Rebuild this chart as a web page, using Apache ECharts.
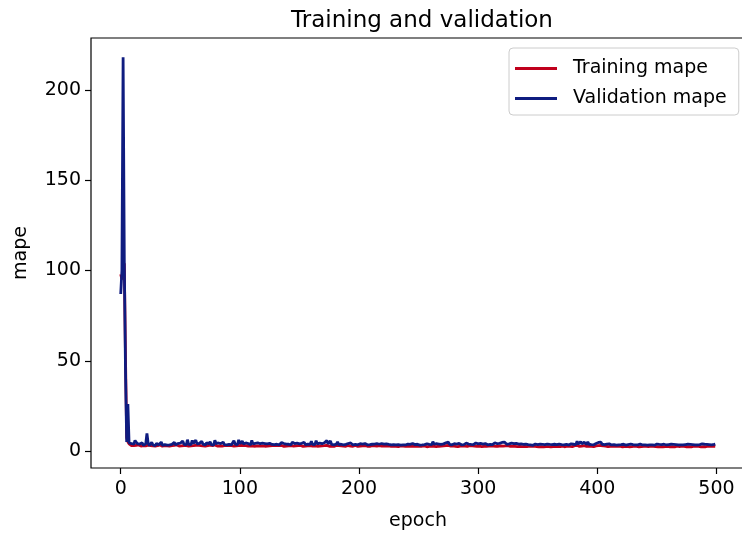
<!DOCTYPE html>
<html>
<head>
<meta charset="utf-8">
<script src="https://cdn.jsdelivr.net/npm/echarts@6/dist/echarts.min.js"></script>
<style>
  html, body { margin: 0; padding: 0; background: #fff; }
  #chart { width: 742px; height: 535px; }
</style>
</head>
<body>
<div id="chart"></div>
<script>
// Per-epoch MAPE recorded during training (epochs 0..499)
const trainingMape = [
  98, 95, 101, 104, 52, 7.5, 5.2, 4.0, 3.4, 3.1,
  3.3, 3.0, 3.6, 3.2, 2.9, 3.4, 3.1, 2.8, 3.5, 3.0,
  3.2, 2.9, 3.7, 3.3, 2.7, 3.1, 3.4, 2.9, 3.2, 2.8,
  3.3, 3.0, 2.8, 3.4, 3.1, 2.7, 3.2, 3.0, 3.5, 2.9,
  3.1, 2.8, 3.3, 3.0, 2.6, 3.2, 2.9, 3.4, 3.0, 2.8,
  3.2, 2.9, 3.5, 3.1, 2.7, 3.0, 3.3, 2.8, 3.1, 2.9,
  3.4, 3.0, 2.7, 3.2, 2.9, 3.3, 2.8, 3.0, 3.5, 2.9,
  3.1, 2.7, 3.2, 3.0, 2.8, 3.3, 2.9, 3.1, 2.6, 3.4,
  3.0, 2.8, 3.2, 2.9, 3.1, 2.7, 3.3, 3.0, 2.8, 3.1,
  2.9, 3.2, 2.7, 3.0, 3.3, 2.8, 3.1, 2.9, 3.4, 3.0,
  2.8, 3.1, 2.9, 3.2, 2.7, 3.0, 3.3, 2.8, 3.1, 2.9,
  3.2, 2.8, 3.0, 2.7, 3.1, 2.9, 3.3, 2.8, 3.0, 2.9,
  3.1, 2.7, 3.0, 2.8, 3.2, 2.9, 2.7, 3.1, 2.8, 3.0,
  2.9, 3.2, 2.7, 3.0, 2.8, 3.1, 2.9, 2.6, 3.0, 2.8,
  3.2, 2.9, 2.7, 3.0, 3.3, 2.8, 3.1, 2.9, 2.7, 3.0,
  2.8, 3.1, 2.9, 2.6, 3.0, 2.8, 3.2, 2.9, 2.7, 3.1,
  3.0, 2.8, 3.3, 2.9, 3.1, 2.7, 3.0, 2.8, 3.2, 2.9,
  2.7, 3.0, 2.8, 3.2, 2.9, 2.7, 3.1, 2.8, 3.0, 2.6,
  2.9, 3.1, 2.8, 3.0, 2.7, 2.9, 3.2, 2.8, 3.0, 2.7,
  2.9, 3.1, 2.6, 2.8, 3.0, 2.7, 2.9, 3.1, 2.8, 2.6,
  3.0, 2.8, 2.7, 2.9, 2.6, 3.0, 2.8, 2.7, 2.9, 2.6,
  2.8, 3.0, 2.7, 2.9, 2.6, 2.8, 2.7, 3.0, 2.6, 2.8,
  2.7, 2.9, 2.6, 2.8, 2.5, 2.9, 2.7, 2.6, 2.8, 2.7,
  2.9, 2.6, 2.8, 2.5, 2.7, 2.9, 2.6, 2.8, 2.5, 2.7,
  2.6, 2.8, 2.5, 2.7, 2.9, 2.6, 2.5, 2.8, 2.6, 2.7,
  2.5, 2.8, 2.6, 2.7, 2.5, 2.9, 2.6, 2.4, 2.8, 2.6,
  2.9, 2.7, 3.1, 2.6, 2.8, 2.5, 2.9, 2.7, 2.6, 2.8,
  2.6, 2.9, 2.7, 3.0, 2.6, 3.1, 2.8, 2.7, 2.5, 2.9,
  2.7, 2.6, 2.9, 2.5, 2.8, 2.7, 2.6, 2.9, 2.5, 2.8,
  3.0, 2.6, 2.8, 3.1, 2.7, 2.9, 2.6, 2.8, 3.0, 2.6,
  2.8, 2.7, 2.9, 2.5, 2.8, 2.6, 2.9, 2.7, 2.5, 2.8,
  2.6, 2.9, 2.7, 2.8, 3.0, 2.6, 2.9, 2.7, 2.8, 2.9,
  3.1, 2.8, 3.2, 2.9, 2.7, 3.0, 2.8, 2.6, 2.9, 2.7,
  2.8, 2.6, 2.9, 2.5, 2.7, 2.6, 2.8, 2.5, 2.7, 2.6,
  2.8, 2.5, 2.6, 2.7, 2.4, 2.6, 2.5, 2.7, 2.8, 2.5,
  2.6, 2.4, 2.7, 2.5, 2.6, 2.4, 2.7, 2.5, 2.8, 2.5,
  2.6, 2.4, 2.7, 2.5, 2.6, 2.5, 2.4, 2.6, 2.8, 2.5,
  2.6, 2.7, 2.5, 2.4, 2.6, 2.8, 2.5, 2.6, 2.9, 2.5,
  2.7, 3.0, 2.6, 3.2, 2.8, 2.6, 3.1, 2.8, 2.6, 3.0,
  2.8, 2.6, 3.1, 2.7, 2.9, 2.6, 2.8, 2.5, 2.7, 2.9,
  2.6, 3.0, 2.8, 3.1, 2.7, 2.9, 2.6, 2.8, 2.7, 2.5,
  2.8, 2.6, 2.4, 2.7, 2.5, 2.7, 2.4, 2.6, 2.5, 2.7,
  2.5, 2.4, 2.7, 2.5, 2.3, 2.6, 2.5, 2.4, 2.7, 2.5,
  2.6, 2.7, 2.4, 2.6, 2.5, 2.3, 2.7, 2.5, 2.4, 2.6,
  2.5, 2.6, 2.3, 2.5, 2.4, 2.7, 2.5, 2.6, 2.3, 2.5,
  2.7, 2.4, 2.6, 2.5, 2.4, 2.3, 2.6, 2.5, 2.4, 2.6,
  2.5, 2.4, 2.7, 2.5, 2.6, 2.3, 2.5, 2.7, 2.4, 2.5,
  2.5, 2.7, 2.4, 2.6, 2.5, 2.3, 2.6, 2.5, 2.6, 2.4,
  2.5, 2.7, 2.4, 2.6, 2.4, 2.6, 2.5, 2.4, 2.7, 2.5,
  2.6, 2.4, 2.6, 2.8, 2.5, 2.7, 2.4, 2.8, 2.6, 2.7
];

const validationMape = [
  87, 100, 218, 105, 45, 5, 26, 4.5, 3.6, 4.2,
  3.5, 3.8, 5.9, 6.2, 4.1, 3.3, 3.9, 3.4, 4.6, 3.2,
  3.7, 4.0, 9.8, 4.4, 3.1, 3.6, 4.8, 3.4, 3.9, 3.0,
  4.3, 5.2, 3.5, 3.8, 5.0, 3.2, 4.1, 3.6, 4.7, 3.3,
  4.0, 3.4, 4.5, 3.7, 3.9, 4.8, 3.5, 3.2, 4.2, 3.8,
  4.4, 3.6, 5.6, 3.9, 4.1, 3.4, 6.3, 3.8, 4.5, 3.6,
  5.9, 4.2, 3.7, 6.1, 4.0, 3.5, 4.3, 3.8, 5.4, 3.9,
  4.1, 3.4, 4.6, 3.7, 4.0, 5.2, 3.6, 4.4, 3.3, 6.0,
  4.2, 3.8, 4.5, 3.5, 4.1, 3.9, 5.0, 3.6, 4.3, 3.4,
  4.0, 3.7, 4.6, 3.5, 4.2, 5.8, 3.9, 4.4, 3.6, 6.2,
  4.1, 3.8, 5.5, 4.0, 3.7, 4.5, 3.6, 4.2, 3.9, 3.5,
  5.9, 4.0, 3.7, 4.3, 3.8, 4.6, 3.5, 4.1, 3.9, 4.4,
  3.6, 4.2, 3.8, 4.0, 3.5, 4.3, 3.9, 3.7, 4.5, 3.6,
  4.1, 3.8, 4.4, 3.5, 4.0, 4.7, 3.7, 4.2, 3.6, 3.9,
  4.6, 3.8, 4.1, 3.5, 5.0, 3.9, 4.2, 3.6, 4.4, 3.7,
  4.0, 3.5, 4.3, 3.8, 4.9, 3.6, 4.1, 3.9, 4.5, 3.7,
  5.4, 3.8, 4.2, 3.6, 5.8, 4.0, 3.7, 4.4, 3.5, 4.1,
  3.9, 4.6, 3.6, 5.9, 4.0, 3.8, 5.6, 3.7, 4.2, 3.5,
  4.3, 3.9, 5.1, 3.6, 4.0, 3.8, 4.4, 3.5, 4.1, 3.7,
  3.9, 4.2, 3.6, 4.5, 3.8, 3.4, 4.0, 3.7, 4.3, 3.5,
  3.8, 4.1, 3.6, 3.9, 3.4, 4.2, 3.7, 3.5, 4.0, 3.6,
  4.3, 3.8, 3.5, 3.9, 3.6, 4.1, 3.4, 3.8, 3.7, 4.2,
  3.5, 3.9, 3.6, 4.0, 3.4, 3.7, 4.3, 3.5, 3.8, 3.6,
  3.9, 3.4, 4.1, 3.6, 3.7, 3.3, 4.0, 3.5, 3.8, 3.4,
  3.6, 3.9, 3.3, 3.7, 3.5, 4.2, 3.4, 3.6, 3.2, 3.8,
  3.5, 3.3, 3.7, 3.4, 3.9, 3.6, 3.2, 4.0, 3.5, 3.7,
  4.4, 3.6, 5.2, 3.8, 3.5, 4.1, 3.6, 3.9, 3.4, 3.7,
  3.5, 4.0, 3.6, 4.6, 3.9, 5.0, 3.7, 4.2, 3.5, 3.8,
  4.1, 3.6, 3.9, 3.4, 4.3, 3.7, 3.5, 4.0, 3.6, 3.8,
  4.4, 3.5, 3.9, 4.6, 3.7, 4.1, 3.6, 3.8, 4.5, 3.6,
  4.0, 3.7, 4.3, 3.5, 3.9, 3.6, 4.2, 3.8, 3.5, 4.1,
  3.7, 4.4, 3.6, 3.9, 4.6, 3.8, 4.1, 3.5, 4.3, 4.0,
  4.8, 3.9, 5.0, 4.2, 3.8, 4.7, 4.0, 3.7, 4.4, 3.6,
  4.1, 3.8, 4.3, 3.5, 3.9, 3.6, 4.0, 3.4, 3.7, 3.5,
  3.9, 3.3, 3.6, 3.8, 3.4, 3.7, 3.2, 3.5, 3.9, 3.4,
  3.6, 3.3, 3.8, 3.5, 3.7, 3.2, 3.6, 3.4, 3.9, 3.5,
  3.7, 3.4, 3.6, 3.3, 3.8, 3.5, 3.6, 3.2, 3.9, 3.4,
  3.6, 3.8, 3.5, 3.3, 3.7, 3.9, 3.4, 3.6, 4.0, 3.5,
  3.8, 4.2, 3.6, 5.4, 3.9, 3.7, 5.2, 4.0, 3.6, 4.9,
  4.1, 3.7, 5.1, 3.8, 4.3, 3.6, 4.0, 3.5, 3.9, 4.2,
  3.7, 4.8, 4.0, 5.0, 3.8, 4.4, 3.6, 4.1, 3.9, 3.5,
  4.0, 3.7, 3.4, 3.9, 3.6, 3.8, 3.3, 3.7, 3.5, 3.9,
  3.6, 3.4, 3.8, 3.5, 3.3, 3.7, 3.6, 3.4, 3.9, 3.5,
  3.6, 3.8, 3.4, 3.7, 3.5, 3.3, 3.9, 3.6, 3.4, 3.8,
  3.5, 3.7, 3.3, 3.6, 3.4, 3.8, 3.5, 3.7, 3.3, 3.6,
  3.9, 3.4, 3.7, 3.5, 3.6, 3.3, 3.8, 3.5, 3.4, 3.7,
  3.6, 3.4, 3.8, 3.5, 3.7, 3.3, 3.6, 3.9, 3.4, 3.6,
  3.5, 3.8, 3.4, 3.7, 3.6, 3.3, 3.8, 3.5, 3.7, 3.4,
  3.6, 3.9, 3.5, 3.7, 3.4, 3.8, 3.6, 3.5, 4.0, 3.6,
  3.8, 3.5, 3.7, 4.1, 3.6, 3.9, 3.5, 4.2, 3.7, 3.9
];

// Axis tick positions
const xTicks = [0, 100, 200, 300, 400, 500];
const yTicks = [0, 50, 100, 150, 200];

const FONT = 'DejaVu Sans';
const RED = '#c0001c';
const NAVY = '#0f1c80';

const toPoints = arr => arr.map((v, i) => [i, v]);

const chart = echarts.init(document.getElementById('chart'), null, { renderer: 'canvas' });

chart.setOption({
  animation: false,
  backgroundColor: '#ffffff',
  textStyle: { fontFamily: FONT, color: '#000' },
  title: {
    text: 'Training and validation',
    left: 417,
    textAlign: 'center',
    top: 5,
    textStyle: { fontFamily: FONT, fontSize: 23, fontWeight: 'normal', color: '#000' }
  },
  legend: {
    orient: 'vertical',
    left: 509,
    top: 48,
    padding: [11, 12, 7, 6],
    itemGap: 11,
    itemWidth: 42,
    itemHeight: 3,
    icon: 'rect',
    backgroundColor: '#fff',
    borderColor: '#cccccc',
    borderWidth: 1,
    borderRadius: 4,
    textStyle: { fontFamily: FONT, fontSize: 19, color: '#000', padding: [0, 0, 0, 11] },
    data: ['Training mape', 'Validation mape']
  },
  grid: {
    left: 91,
    top: 38,
    width: 654,
    height: 430,
    show: true,
    outerBoundsMode: 'none',
    containLabel: false,
    borderColor: '#000',
    borderWidth: 1.2,
    backgroundColor: 'transparent'
  },
  xAxis: {
    type: 'value',
    min: -24.95,
    max: 523.95,
    name: 'epoch',
    nameLocation: 'middle',
    nameGap: 44,
    nameTextStyle: { fontFamily: FONT, fontSize: 19, color: '#000' },
    axisLine: { show: false, onZero: false },
    splitLine: { show: false },
    axisTick: { show: true, inside: false, length: 6, customValues: xTicks,
      lineStyle: { color: '#000', width: 1.2 } },
    axisLabel: { show: true, customValues: xTicks, margin: 12,
      fontFamily: FONT, fontSize: 19, color: '#000' }
  },
  yAxis: {
    type: 'value',
    min: -9.35,
    max: 228.7,
    name: 'mape',
    nameLocation: 'middle',
    nameGap: 60,
    nameTextStyle: { fontFamily: FONT, fontSize: 19, color: '#000' },
    axisLine: { show: false, onZero: false },
    splitLine: { show: false },
    axisTick: { show: true, inside: false, length: 6, customValues: yTicks,
      lineStyle: { color: '#000', width: 1.2 } },
    axisLabel: { show: true, customValues: yTicks, margin: 10,
      fontFamily: FONT, fontSize: 19, color: '#000' }
  },
  series: [
    {
      name: 'Training mape',
      type: 'line',
      data: toPoints(trainingMape),
      showSymbol: false,
      symbol: 'none',
      color: RED,
      lineStyle: { color: RED, width: 2.8 },
      z: 2
    },
    {
      name: 'Validation mape',
      type: 'line',
      data: toPoints(validationMape),
      showSymbol: false,
      symbol: 'none',
      color: NAVY,
      lineStyle: { color: NAVY, width: 2.8 },
      z: 3
    }
  ]
});
</script>
</body>
</html>
